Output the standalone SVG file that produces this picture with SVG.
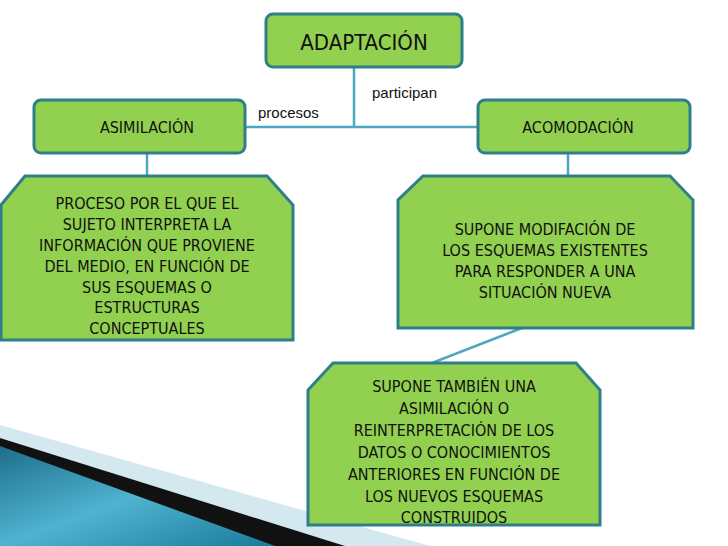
<svg xmlns="http://www.w3.org/2000/svg" width="728" height="546" viewBox="0 0 728 546">
<defs>
<linearGradient id="tg" x1="0" y1="0" x2="1" y2="1"><stop offset="0" stop-color="#1d6e8c"/><stop offset="0.5" stop-color="#4fb3d0"/><stop offset="1" stop-color="#1a7a99"/></linearGradient>
<style>
.b{fill:#92d050;stroke:#2f7f8a;stroke-width:3}
.t{font-family:"Liberation Sans Narrow","DejaVu Sans Condensed","Liberation Sans",sans-serif;font-size:16px;fill:#111;text-anchor:middle}
.l{font-family:"Liberation Sans",Arial,sans-serif;font-size:15px;fill:#111}
.c{stroke:#4aa8c0;stroke-width:2.5;fill:none}
</style>
</defs>
<rect width="728" height="546" fill="#fff"/>
<polygon points="0,425 430,546 0,546" fill="#d4e8ef"/>
<polygon points="0,438 345,546 0,546" fill="#111"/>
<polygon points="0,446 275,546 0,546" fill="url(#tg)"/>
<g id="connectors">
<line class="c" x1="354" y1="67" x2="354" y2="127"/>
<line class="c" x1="245" y1="127" x2="478" y2="127"/>
<line class="c" x1="147" y1="153" x2="147" y2="176"/>
<line class="c" x1="568" y1="153" x2="568" y2="176"/>
<line class="c" x1="522" y1="328" x2="432" y2="363"/>
<text class="l" x="372" y="98">participan</text>
<text class="l" x="258" y="118">procesos</text>
</g>
<g id="adaptacion"><rect class="b" x="266" y="14" width="196" height="53" rx="7"/><text class="t" x="364" y="50" style="font-size:22px">ADAPTACIÓN</text></g>
<g id="asimilacion"><rect class="b" x="34" y="100" width="211" height="53" rx="7"/><text class="t" x="147" y="133">ASIMILACIÓN</text></g>
<g id="acomodacion"><rect class="b" x="478" y="100" width="212" height="53" rx="7"/><text class="t" x="578" y="133">ACOMODACIÓN</text></g>
<g id="def-asimilacion"><polygon class="b" points="25,176 267,176 293,205 293,340 1,340 1,205"/>
<text class="t" x="147" y="209">PROCESO POR  EL QUE EL</text>
<text class="t" x="147" y="230">SUJETO INTERPRETA LA</text>
<text class="t" x="147" y="251">INFORMACIÓN QUE PROVIENE</text>
<text class="t" x="147" y="272">DEL MEDIO, EN FUNCIÓN DE</text>
<text class="t" x="147" y="293">SUS ESQUEMAS O</text>
<text class="t" x="147" y="313">ESTRUCTURAS</text>
<text class="t" x="147" y="334">CONCEPTUALES</text></g>
<g id="def-acomodacion"><polygon class="b" points="423,176 670,176 693,200 693,328 398,328 398,200"/>
<text class="t" x="545" y="235">SUPONE MODIFACIÓN   DE</text>
<text class="t" x="545" y="256">LOS  ESQUEMAS EXISTENTES</text>
<text class="t" x="545" y="277">PARA RESPONDER A UNA</text>
<text class="t" x="545" y="298">SITUACIÓN NUEVA</text></g>
<g id="tambien"><polygon class="b" points="333,363 576,363 600,390 600,525 308,525 308,390"/>
<text class="t" x="454" y="392">SUPONE TAMBIÉN UNA</text>
<text class="t" x="454" y="414">ASIMILACIÓN O</text>
<text class="t" x="454" y="436">REINTERPRETACIÓN DE LOS</text>
<text class="t" x="454" y="458">DATOS O CONOCIMIENTOS</text>
<text class="t" x="454" y="480">ANTERIORES EN FUNCIÓN DE</text>
<text class="t" x="454" y="502">LOS NUEVOS ESQUEMAS</text>
<text class="t" x="454" y="523">CONSTRUIDOS</text></g>
</svg>
